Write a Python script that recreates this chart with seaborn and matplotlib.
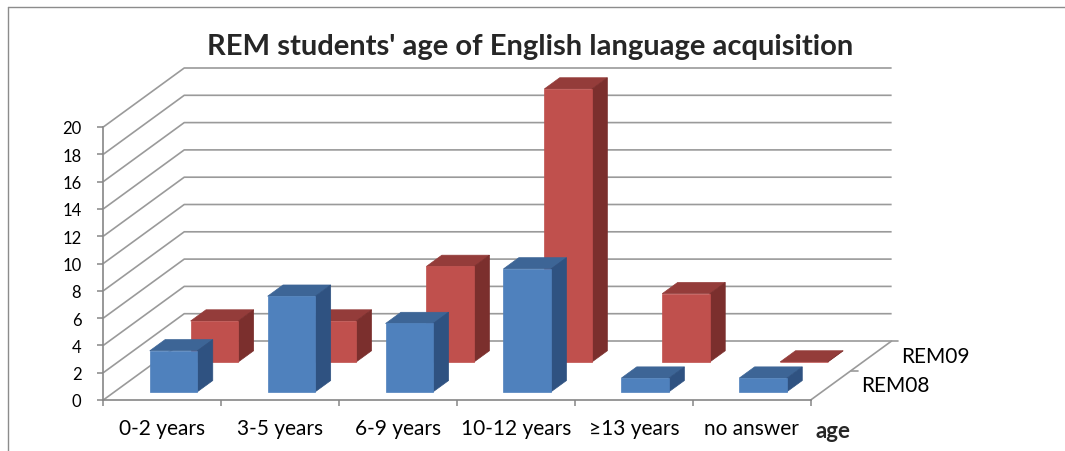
import numpy as np
import pandas as pd
import matplotlib
matplotlib.use("Agg")
import matplotlib.pyplot as plt
from matplotlib.patches import Polygon
from matplotlib.transforms import Affine2D
import seaborn as sns

# Survey counts per age group for two cohorts
ages = ["0-2 years", "3-5 years", "6-9 years", "10-12 years", "\u226513 years", "no answer"]
cohorts = ["REM08", "REM09"]
rem08 = [3, 7, 5, 9, 1, 1]
rem09 = [3, 3, 7, 20, 5, 0]
yticks = list(range(0, 21, 2))
title = "REM students' age of English language acquisition"

front_col = {"REM08": "#4F81BD", "REM09": "#C0504D"}
top_col = {"REM08": "#3D6596", "REM09": "#943C3A"}
side_col = {"REM08": "#2F5281", "REM09": "#7B2F2D"}
grid_c = "#9A9A9A"
axis_c = "#868686"

sns.set_style("white")
plt.rcParams["font.family"] = ["Lato", "DejaVu Sans"]

df = pd.DataFrame({
    "age": ages * 2,
    "students": rem08 + rem09,
    "cohort": ["REM08"] * len(ages) + ["REM09"] * len(ages),
})

W, H = 1065, 452
fig = plt.figure(figsize=(W / 100, H / 100), dpi=100)
ax = fig.add_axes([103.3 / W, 1 - 401 / H, 707.4 / W, 273 / H])

sns.barplot(data=df, x="age", y="students", hue="cohort", order=ages,
            hue_order=cohorts, palette=front_col, dodge=False, width=0.404,
            saturation=1, errorbar=None, legend=False, linewidth=0, ax=ax)
ax.set_xlim(-0.5, 5.5)
ax.set_ylim(0, 20)

# oblique projection: full floor depth expressed in data units
DX, DY = 81 / 118, 59 / 13.65
row_front = {"REM08": 0.14, "REM09": 0.645}
row_depth = 0.19

for cohort, container in zip(cohorts, ax.containers):
    f0 = row_front[cohort]
    ox, oy = f0 * DX, f0 * DY
    ddx, ddy = row_depth * DX, row_depth * DY
    z = 3 if cohort == "REM08" else 2
    shift = Affine2D().translate(ox, oy) + ax.transData
    for bar in container:
        bar.set_transform(shift)
        bar.set_clip_on(False)
        bar.set_zorder(z + 0.1)
        bar.set_edgecolor(front_col[cohort])
        bar.set_linewidth(0.5)
        x0 = bar.get_x() + ox
        x1 = x0 + bar.get_width()
        y0 = bar.get_y() + oy
        y1 = y0 + bar.get_height()
        ax.add_patch(Polygon([(x0, y1), (x1, y1), (x1 + ddx, y1 + ddy), (x0 + ddx, y1 + ddy)],
                             closed=True, fc=top_col[cohort], ec=top_col[cohort], lw=0.5,
                             zorder=z, clip_on=False))
        ax.add_patch(Polygon([(x1, y0), (x1, y1), (x1 + ddx, y1 + ddy), (x1 + ddx, y0 + ddy)],
                             closed=True, fc=side_col[cohort], ec=side_col[cohort], lw=0.5,
                             zorder=z, clip_on=False))

# side wall and back wall gridlines
for v in yticks:
    ax.plot([-0.5, -0.5 + DX, 5.5 + DX], [v, v + DY, v + DY], color=grid_c,
            lw=1.2, zorder=0.5, clip_on=False, solid_capstyle="butt")
# floor right edge and depth ticks
ax.plot([5.5, 5.5 + DX], [0, DY], color=grid_c, lw=1.2, zorder=0.5, clip_on=False)
for f in (0.5, 1.0):
    ax.plot([5.5 + f * DX, 5.5 + f * DX + 0.055], [f * DY, f * DY], color=grid_c,
            lw=1.2, zorder=0.5, clip_on=False)
for cohort, f in zip(cohorts, (0.25, 0.75)):
    ax.text(5.5 + f * DX + 30 / 118, f * DY, cohort, ha="left", va="center",
            fontsize=15, color="black", clip_on=False)

ax.grid(False)
for s in ("top", "right"):
    ax.spines[s].set_visible(False)
for s in ("left", "bottom"):
    ax.spines[s].set_color(axis_c)
    ax.spines[s].set_linewidth(1.2)
    ax.spines[s].set_zorder(0.6)

ax.set_yticks(yticks)
ax.tick_params(axis="y", length=4.3, width=1.1, color=axis_c, pad=11.5,
               labelsize=12, labelcolor="black", left=True)
ax.set_xticks(range(len(ages)), labels=ages)
ax.set_xticks(np.arange(-0.5, len(ages), 1.0), minor=True)
ax.tick_params(axis="x", which="major", length=0, pad=13, labelsize=15, labelcolor="black")
ax.tick_params(axis="x", which="minor", length=4, width=1.1, color=axis_c, bottom=True)
ax.set_ylabel("")
ax.set_xlabel("age", fontsize=16, fontweight="bold", ha="left", va="center")
ax.xaxis.set_label_coords((815 - 103.3) / 707.4, -(432 - 401) / 273)

fig.text(530 / W, 1 - 47 / H, title, ha="center", va="center",
         fontsize=21, fontweight="bold")

# chart area outline
fig.add_artist(plt.Line2D([8 / W, 8 / W], [0, 1 - 8 / H], color="#8C8C8C", lw=1.0))
fig.add_artist(plt.Line2D([8 / W, 1], [1 - 8 / H, 1 - 8 / H], color="#8C8C8C", lw=1.0))

fig.savefig("out.png", dpi=100)
